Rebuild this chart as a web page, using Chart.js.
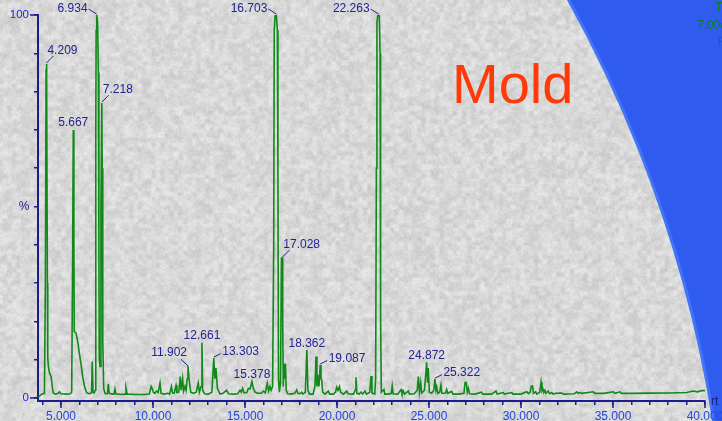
<!DOCTYPE html>
<html><head><meta charset="utf-8">
<script src="https://cdn.jsdelivr.net/npm/chart.js@4.4.1/dist/chart.umd.min.js"></script>
<style>html,body{margin:0;padding:0;background:#2f5cee;overflow:hidden}#wrap{width:722px;height:421px}</style>
</head><body><div id="wrap"><canvas id="c" width="722" height="421"></canvas></div>
<script>
// ---- data ----
const retentionTimes = [
 3.76,3.95,4.10,4.15,4.19,4.209,4.23,4.26,4.28,4.33,4.40,4.47,4.52,4.58,4.70,4.85,4.92,5.00,5.30,5.50,
 5.58,5.63,5.667,5.70,5.72,5.81,5.90,6.00,6.10,6.18,6.28,6.40,6.55,6.66,6.70,6.74,6.80,6.86,6.89,6.91,
 6.934,6.95,6.99,7.03,7.06,7.08,7.12,7.17,7.218,7.24,7.27,7.32,7.40,7.52,7.57,7.62,7.80,7.88,7.93,7.98,
 8.30,8.48,8.53,8.60,9.00,9.50,9.80,9.90,9.95,10.02,10.10,10.20,10.28,10.38,10.44,10.60,10.80,10.90,11.00,11.06,
 11.15,11.25,11.30,11.40,11.48,11.53,11.61,11.66,11.74,11.80,11.86,11.902,11.96,12.05,12.20,12.35,12.46,12.52,12.61,12.661,
 12.70,12.80,13.00,13.20,13.303,13.36,13.42,13.50,13.64,13.80,14.00,14.10,14.40,14.60,14.73,14.80,14.87,14.95,15.10,15.18,
 15.28,15.378,15.45,15.55,15.70,15.90,16.00,16.10,16.21,16.28,16.36,16.42,16.50,16.56,16.59,16.64,16.703,16.76,16.79,16.82,
 16.87,16.93,16.98,17.028,17.05,17.08,17.12,17.15,17.20,17.24,17.32,17.50,17.70,17.81,17.87,18.00,18.08,18.15,18.28,18.362,
 18.42,18.50,18.70,18.80,18.86,18.91,18.95,19.02,19.087,19.13,19.17,19.22,19.35,19.53,19.60,19.80,19.92,19.98,20.05,20.13,
 20.20,20.35,20.53,20.60,20.90,20.98,21.03,21.08,21.20,21.30,21.40,21.52,21.60,21.78,21.85,21.90,22.05,22.10,22.14,22.17,
 22.22,22.263,22.30,22.34,22.37,22.41,22.55,22.60,22.80,22.95,23.00,23.05,23.30,23.48,23.53,23.60,23.66,23.88,23.94,24.20,
 24.36,24.42,24.48,24.55,24.60,24.75,24.82,24.872,24.92,24.96,25.02,25.15,25.26,25.322,25.38,25.42,25.48,25.58,25.65,25.70,
 25.90,25.96,26.02,26.23,26.30,26.60,26.90,26.96,27.03,27.08,27.14,27.20,27.50,27.86,27.92,28.40,28.64,28.70,29.04,29.10,
 29.50,29.56,30.00,30.31,30.40,30.50,30.56,30.63,30.68,30.80,30.86,31.02,31.09,31.14,31.18,31.24,31.30,31.36,31.48,31.55,
 31.67,31.75,31.90,32.21,32.30,32.90,33.03,33.10,33.20,33.30,33.93,34.00,34.50,35.02,35.10,35.38,35.45,36.00,37.00,38.00,
 39.00,39.35,39.60,39.80,40.00
];
const intensities = [
 0.2,1.0,1.2,30,86,87.2,84,30,10.4,7.5,6.2,5.5,3.0,1.3,1.0,1.2,1.6,1.1,1.0,1.1,
 1.5,35,70,40,17.3,17.0,15.0,11.5,8.5,5.5,3.0,1.3,1.1,1.3,9.5,1.5,1.3,2.0,70,96,
 100,100,98,85,40,10,8.2,50,77,60,15,2.5,1.1,1.1,3.7,1.2,1.0,1.0,2.3,1.1,
 0.9,1.0,2.6,1.0,0.9,0.9,1.0,3.0,2.5,1.5,1.2,1.8,1.4,3.9,1.2,1.0,1.2,1.0,3.0,1.3,
 1.2,3.3,1.4,1.5,5.6,2.0,5.0,1.8,3.0,2.0,5.0,8.4,5.0,1.5,1.2,1.5,3.9,1.5,3.0,14.4,
 2.0,1.1,1.0,1.5,10.4,5.0,7.8,2.5,1.0,1.2,2.0,1.1,1.0,1.1,2.0,1.5,2.5,1.3,1.4,2.5,
 2.4,4.3,2.5,1.5,1.2,1.3,1.8,1.3,3.8,1.8,3.0,2.0,3.0,40,96,100,100,96,60,5,
 1.5,4,36.5,36.5,20,3,9,5,8.9,2.0,1.1,1.0,1.2,2.1,1.2,1.1,1.5,1.0,1.5,12.5,
 2.0,1.0,1.0,3.0,10.8,3.0,6.0,3.0,8.6,5.0,4.7,1.5,1.0,1.8,1.0,1.0,1.5,2.8,2.0,3.0,
 1.5,1.0,1.8,1.1,1.0,2.0,5.4,1.2,1.0,1.5,1.0,1.8,1.0,1.5,5.7,1.3,1.0,5.0,60,98,
 100,100,100,90,20,1.5,2.2,1.0,1.0,1.2,3.1,1.1,1.0,2.2,1.2,1.8,1.0,1.8,1.0,1.1,
 2.0,5.6,1.5,4.0,1.3,2.0,6.0,9.3,4.0,7.8,1.5,1.2,2.0,4.9,2.0,2.8,1.2,1.5,3.4,1.2,
 1.3,2.2,1.2,1.7,1.0,1.0,1.2,4.0,4.0,1.5,2.5,1.1,1.0,1.5,1.0,1.0,1.8,1.0,1.4,1.0,
 1.4,1.0,1.0,1.6,1.1,1.5,3.1,3.1,1.2,1.6,1.0,1.5,4.1,2.0,2.5,1.4,2.0,1.2,1.8,1.1,
 1.4,1.0,1.2,1.3,1.0,1.1,1.6,1.2,1.4,1.2,1.6,1.2,1.2,1.6,1.2,1.6,1.2,1.2,1.25,1.3,
 1.4,1.8,1.6,1.9,1.9
];
const peakNames   = ['4.209','5.667','6.934','7.218','11.902','12.661','13.303','15.378','16.703','17.028','18.362','19.087','22.263','24.872','25.322'];
const peakTimes   = [4.209,5.667,6.934,7.218,11.902,12.661,13.303,15.378,16.703,17.028,18.362,19.087,22.263,24.872,25.322];
const peakHeights = [87.2,70,100,77,8.4,14.4,10.4,4.3,100,36.5,12.5,8.6,100,9.3,4.9];
const xTickValues = [5,10,15,20,25,30,35,40];
const xTickLabels = ['5.000','10.000','15.000','20.000','25.000','30.000','35.000','40.000'];
const yTickValues = [0,100];
const yTickLabels = ['0','100'];
const headerLines = ['TIC','7.00e6','F'];
const titleText = 'Mold';

// ---- styling ----
const FONT = '"Liberation Sans", Arial, sans-serif';
const AXIS = '#1c1c8a';
const LABEL = '#23238e';
const labelModes = ['rightUp','up','topLeft','rightUp','left','up','right','up','topLeft','rightUp','up','right','topLeft','up','right'];

function makeTexture(w,h){
  const cv=document.createElement('canvas'); cv.width=w; cv.height=h;
  const c=cv.getContext('2d'); const img=c.createImageData(w,h); const d=img.data;
  function hash(x,y){let n=(Math.imul(x,374761393)+Math.imul(y,668265263))|0;n=Math.imul(n^(n>>>13),1274126177);n=n^(n>>>16);return (n>>>0)/4294967296;}
  function vn(x,y,s){const gx=Math.floor(x/s),gy=Math.floor(y/s);const fx=x/s-gx,fy=y/s-gy;const sx=fx*fx*(3-2*fx),sy=fy*fy*(3-2*fy);
    const a=hash(gx,gy),b=hash(gx+1,gy),e=hash(gx,gy+1),f=hash(gx+1,gy+1);return a+(b-a)*sx+(e-a)*sy+(a-b-e+f)*sx*sy;}
  for(let y=0;y<h;y++)for(let x=0;x<w;x++){
    const v=216+24*(vn(x,y,4.5)-0.5)+16*(vn(x+913,y+377,1.8)-0.5);
    const i=(y*w+x)*4; d[i]=v; d[i+1]=v; d[i+2]=v+1; d[i+3]=255;
  }
  c.putImageData(img,0,0); return cv;
}
const texture = makeTexture(722,421);

const bgPlugin = {
  id:'bg',
  beforeDraw(chart){
    const ctx=chart.ctx; ctx.save();
    ctx.fillStyle='#2f5cee'; ctx.fillRect(0,0,chart.width,chart.height);
    ctx.beginPath(); ctx.arc(-546,619,1275,0,Math.PI*2); ctx.closePath();
    ctx.save(); ctx.clip(); ctx.drawImage(texture,0,0); ctx.restore();
    ctx.lineWidth=3; ctx.strokeStyle='#4274f6'; ctx.stroke();
    // title
    ctx.fillStyle='#ff3a0a'; ctx.font='56px '+FONT; ctx.textAlign='left'; ctx.textBaseline='alphabetic';
    ctx.fillText(titleText,452,103);
    // header text in blue area
    ctx.fillStyle='#0b7d2a'; ctx.font='12px '+FONT;
    ctx.fillText(headerLines[0],715,11); ctx.fillText(headerLines[1],697,29); ctx.fillText(headerLines[2],718,46);
    ctx.restore();
  }
};

const annoPlugin = {
  id:'anno',
  afterDraw(chart){
    const {ctx, scales:{x,y}} = chart;
    ctx.save();
    const bottom = chart.chartArea.bottom, left = chart.chartArea.left;
    ctx.strokeStyle=AXIS; ctx.lineWidth=1.5;
    xTickValues.forEach(v=>{const px=x.getPixelForValue(v);ctx.beginPath();ctx.moveTo(px,bottom);ctx.lineTo(px,bottom+7);ctx.stroke();});
    yTickValues.forEach(v=>{const py=y.getPixelForValue(v);ctx.beginPath();ctx.moveTo(left,py);ctx.lineTo(left-8,py);ctx.stroke();});
    ctx.font='12px '+FONT; ctx.textBaseline='alphabetic';
    ctx.fillStyle='#2346dc'; ctx.textAlign='center';
    xTickValues.forEach((v,i)=>ctx.fillText(xTickLabels[i],x.getPixelForValue(v),420));
    ctx.fillStyle='#2222ee'; ctx.textAlign='right'; ctx.textBaseline='middle'; ctx.font='11.5px '+FONT;
    yTickValues.forEach((v,i)=>ctx.fillText(yTickLabels[i],29,y.getPixelForValue(v)));
    ctx.fillStyle=AXIS; ctx.font='12px '+FONT;
    ctx.textAlign='center'; ctx.fillText('%',24,y.getPixelForValue(50));
    ctx.textAlign='left'; ctx.textBaseline='alphabetic'; ctx.fillText('rt',711,405);
    // peak labels
    ctx.fillStyle=LABEL; ctx.strokeStyle=LABEL; ctx.lineWidth=1; ctx.font='12px '+FONT; ctx.textBaseline='alphabetic';
    const leader=(a,b,c,d)=>{ctx.beginPath();ctx.moveTo(a,b);ctx.lineTo(c,d);ctx.stroke();};
    peakNames.forEach((name,i)=>{
      const ax=x.getPixelForValue(peakTimes[i]), ay=y.getPixelForValue(peakHeights[i]);
      const m=labelModes[i];
      if(m==='up'){ctx.textAlign='center';ctx.fillText(name,ax,ay-3.5);}
      else if(m==='left'){leader(ax,ay,ax-7,ay-6.5);ctx.textAlign='right';ctx.fillText(name,ax-1,ay-10);}
      else if(m==='topLeft'){leader(ax,ay-1,ax-8,ay-6);ctx.textAlign='right';ctx.fillText(name,ax-9,ay-3);}
      else if(m==='rightUp'){leader(ax,ay-1,ax+7,ay-8);ctx.textAlign='left';ctx.fillText(name,ax+1,ay-10.5);}
      else {leader(ax,ay-1,ax+7,ay-4.5);ctx.textAlign='left';ctx.fillText(name,ax+8.5,ay-3);}
    });
    ctx.restore();
  }
};

new Chart(document.getElementById('c'), {
  type:'line',
  data:{datasets:[{
    data: retentionTimes.map((t,i)=>({x:t,y:intensities[i]})),
    borderColor:'#11891a', borderWidth:1.6, pointRadius:0, tension:0, fill:false
  }]},
  options:{
    responsive:false, animation:false, devicePixelRatio:1,
    layout:{padding:{left:34,right:17,top:15,bottom:16}},
    plugins:{legend:{display:false},tooltip:{enabled:false}},
    scales:{
      x:{type:'linear',min:3.75,max:40,
        afterBuildTicks:s=>{const t=[];for(let v=4;v<=40;v++)t.push({value:v});s.ticks=t;},
        ticks:{display:false},
        grid:{display:true,drawOnChartArea:false,drawTicks:true,tickLength:4,color:AXIS,lineWidth:1.5},
        border:{display:true,color:AXIS,width:2}},
      y:{type:'linear',min:-0.8,max:100,
        afterBuildTicks:s=>{const t=[];for(let v=0;v<=100;v+=10)t.push({value:v});s.ticks=t;},
        ticks:{display:false},
        grid:{display:true,drawOnChartArea:false,drawTicks:true,tickLength:4,color:AXIS,lineWidth:1.5},
        border:{display:true,color:AXIS,width:2}}
    }
  },
  plugins:[bgPlugin,annoPlugin]
});
</script></body></html>
